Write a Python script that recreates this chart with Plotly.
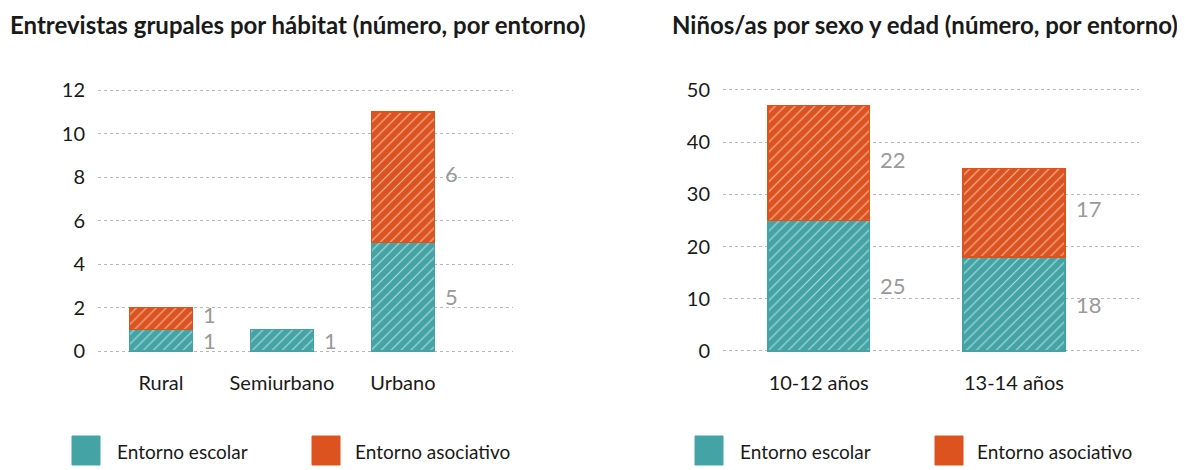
import plotly.graph_objects as go

# ---------------- data ----------------
hab_categories = ["Rural", "Semiurbano", "Urbano"]
hab_escolar = [1, 1, 5]
hab_asociativo = [1, 0, 6]
hab_yticks = [0, 2, 4, 6, 8, 10, 12]

edad_categories = ["10-12 años", "13-14 años"]
edad_escolar = [25, 18]
edad_asociativo = [22, 17]
edad_yticks = [0, 10, 20, 30, 40, 50]

series_names = ["Entorno escolar", "Entorno asociativo"]
titles = ["Entrevistas grupales por hábitat (número, por entorno)",
          "Niños/as por sexo y edad (número, por entorno)"]

# ---------------- style ----------------
OFF = 8                      # page body margin of the html page
W, H = 1185 - OFF, 470 - OFF
TEAL = "#44a4a5"
ORANGE = "#dc531f"
LABEL_GRAY = "#9a9a9a"
TEXT = "#1a1a1a"
FONT = "Lato, Open Sans, sans-serif"
BAR_W = 0.52


def fx(px):  # screen pixel -> paper x
    return (px - OFF) / W


def fy(py):  # screen pixel -> paper y
    return 1 - (py - OFF) / H


fig = go.Figure()

panels = [
    dict(xa="x", ya="y", cats=hab_categories, esc=hab_escolar, aso=hab_asociativo,
         yticks=hab_yticks, xrange=[-0.52, 2.91]),
    dict(xa="x2", ya="y2", cats=edad_categories, esc=edad_escolar, aso=edad_asociativo,
         yticks=edad_yticks, xrange=[-0.49, 1.64]),
]

annotations = []
for p in panels:
    xs = list(range(len(p["cats"])))
    for k, (name, vals, base, col) in enumerate([
        (series_names[0], p["esc"], [0] * len(xs), TEAL),
        (series_names[1], p["aso"], p["esc"], ORANGE),
    ]):
        fig.add_trace(go.Bar(
            x=xs, y=[v if v else None for v in vals], name=name,
            xaxis=p["xa"], yaxis=p["ya"], width=BAR_W, showlegend=False,
            marker=dict(color=col, line=dict(color=col, width=1.5),
                        pattern=dict(shape="/", fgcolor="white", fgopacity=0.6,
                                     size=7, solidity=0.16)),
            hoverinfo="x+y",
        ))
        for i, (v, b) in enumerate(zip(vals, base)):
            if v:
                annotations.append(dict(
                    x=i + BAR_W / 2, y=b + v / 2, xref=p["xa"], yref=p["ya"],
                    text=str(v), showarrow=False, xanchor="left", yanchor="middle",
                    xshift=9, yshift=4 if k == 1 else 0,
                    font=dict(family=FONT, size=22, color=LABEL_GRAY)))

fig.update_layout(barmode="stack")


# y: value 0 at screen pixel 351, top tick at screen pixel 90 (both panels)
def ydomain(top_val, pad):
    ppu = (351 - 90) / top_val
    return [fy(351 + pad * ppu), fy(90 - pad * ppu)]


axis_common = dict(showline=False, zeroline=False, automargin=False, fixedrange=True)
xfont = dict(family=FONT, size=20, color=TEXT)
yfont = dict(family=FONT, size=20, color=TEXT)
grid = dict(showgrid=True, gridcolor="#b8b8b8", griddash="dot", gridwidth=1)

fig.update_layout(
    xaxis=dict(domain=[fx(98), fx(513)], range=panels[0]["xrange"], tickvals=[0, 1, 2],
               ticktext=hab_categories, showgrid=False, ticks="outside", ticklen=13,
               tickcolor="rgba(0,0,0,0)", tickfont=xfont, anchor="y", **axis_common),
    yaxis=dict(domain=ydomain(12, 0.05), range=[-0.05, 12.05], tickvals=hab_yticks,
               ticks="outside", ticklen=8, tickcolor="rgba(0,0,0,0)",
               tickfont=yfont, anchor="x", **grid, **axis_common),
    xaxis2=dict(domain=[fx(723), fx(1139)], range=panels[1]["xrange"], tickvals=[0, 1],
                ticktext=edad_categories, showgrid=False, ticks="outside", ticklen=13,
                tickcolor="rgba(0,0,0,0)", tickfont=xfont, anchor="y2", **axis_common),
    yaxis2=dict(domain=ydomain(50, 0.2), range=[-0.2, 50.2], tickvals=edad_yticks,
                ticks="outside", ticklen=8, tickcolor="rgba(0,0,0,0)",
                tickfont=yfont, anchor="x2", **grid, **axis_common),
)

# titles
annotations.append(dict(x=0, y=1, xref="paper", yref="paper",
                        text=f"<b>{titles[0]}</b>", showarrow=False,
                        xanchor="left", yanchor="top",
                        font=dict(family=FONT, size=24, color=TEXT)))
annotations.append(dict(x=fx(1180), y=1, xref="paper", yref="paper",
                        text=f"<b>{titles[1]}</b>", showarrow=False,
                        xanchor="right", yanchor="top",
                        font=dict(family=FONT, size=24, color=TEXT)))

# legends (swatches + text)
shapes = []
legend_items = [
    (72, 115, TEAL, series_names[0]), (312, 353, ORANGE, series_names[1]),
    (695, 738, TEAL, series_names[0]), (935, 975, ORANGE, series_names[1]),
]
for sx, tx, col, name in legend_items:
    shapes.append(dict(type="rect", xref="paper", yref="paper",
                       x0=fx(sx), x1=fx(sx + 28), y0=fy(465), y1=fy(436),
                       fillcolor=col, line=dict(color=col, width=1)))
    annotations.append(dict(x=fx(tx), y=fy(451), xref="paper", yref="paper", text=name,
                            showarrow=False, xanchor="left", yanchor="middle",
                            font=dict(family=FONT, size=19, color=TEXT)))

fig.update_layout(
    width=W, height=H, margin=dict(l=0, r=0, t=0, b=0, autoexpand=False),
    paper_bgcolor="white", plot_bgcolor="white",
    annotations=annotations, shapes=shapes, showlegend=False,
    font=dict(family=FONT, color=TEXT),
)

fig.write_html("out.html")
